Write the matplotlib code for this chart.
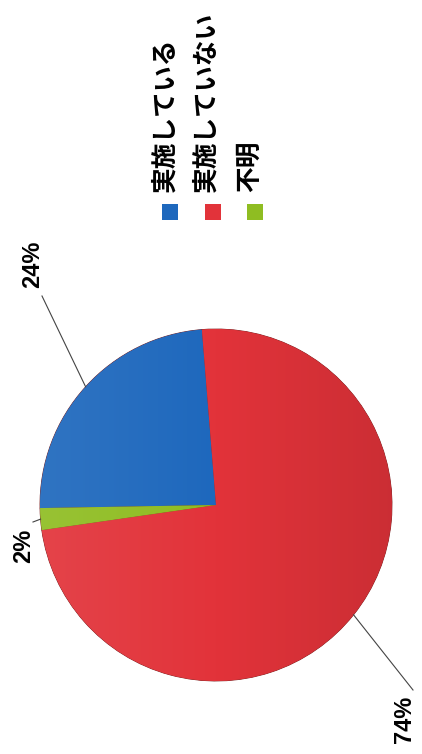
import numpy as np
import matplotlib
matplotlib.use("Agg")
import matplotlib.pyplot as plt
from matplotlib.colors import LinearSegmentedColormap, to_rgb
from matplotlib.patches import Rectangle

plt.rcParams["font.family"] = ["Noto Sans CJK JP", "DejaVu Sans"]

# ----- data ------------------------------------------------------------------
labels = ["実施している", "実施していない", "不明"]
values = [24, 74, 2]
colors = ["#1e68bd", "#e2333a", "#8fbd22"]
# -----------------------------------------------------------------------------

W, H = 422, 754
fig = plt.figure(figsize=(W / 100, H / 100), dpi=100)
ax = fig.add_axes([0, 0, 1, 1])

cx, cy, r = 216, H - 505, 176

wedges, _ = ax.pie(values, colors=colors, startangle=181, counterclock=False,
                   center=(cx, cy), radius=r,
                   wedgeprops=dict(edgecolor="#7a2020", linewidth=0.6))


def shade(c, f):
    c = np.array(to_rgb(c))
    if f > 0:
        return tuple(c + (1 - c) * f)
    return tuple(c * (1 + f))


# left side brighter, right side darker (scanned 3D look)
grad = np.tile(np.linspace(0, 1, 256), (16, 1))
for w, c in zip(wedges, colors):
    cmap = LinearSegmentedColormap.from_list("g", [shade(c, 0.08), c, shade(c, -0.1)])
    im = ax.imshow(grad, cmap=cmap, extent=(cx - r, cx + r, cy - r, cy + r),
                   aspect="auto", zorder=1.5, interpolation="bilinear")
    im.set_clip_path(w)

# percentage labels with leader lines
label_pos = [(33, H - 264), (405, H - 719), (24, H - 546)]
anchor = [(42, H - 296), (413, H - 690), (33, H - 522)]
for w, v, (tx, ty), (axx, ayy) in zip(wedges, values, label_pos, anchor):
    mid = np.deg2rad((w.theta1 + w.theta2) / 2)
    ex, ey = cx + r * np.cos(mid), cy + r * np.sin(mid)
    ax.plot([ex, axx], [ey, ayy], color="#444444", lw=0.8, zorder=3)
    ax.text(tx, ty, f"{v}%", rotation=90, ha="center", va="center",
            fontsize=17, fontweight="bold", family="Liberation Sans", zorder=4)

# legend drawn by hand (the whole chart is rotated 90 degrees)
leg_x = [170, 213, 255]
txt_x = [165, 206, 249]
for lx, tx, lab, c in zip(leg_x, txt_x, labels, colors):
    ax.add_patch(Rectangle((lx - 8, H - 220), 16, 16, facecolor=c, edgecolor="none"))
    ax.text(tx, H - 192, lab, rotation=90, ha="center", va="bottom",
            fontsize=18.5, fontweight="bold")

ax.set_xlim(0, W)
ax.set_ylim(0, H)
ax.set_aspect("equal")
ax.axis("off")

fig.savefig("out.png", dpi=100)
